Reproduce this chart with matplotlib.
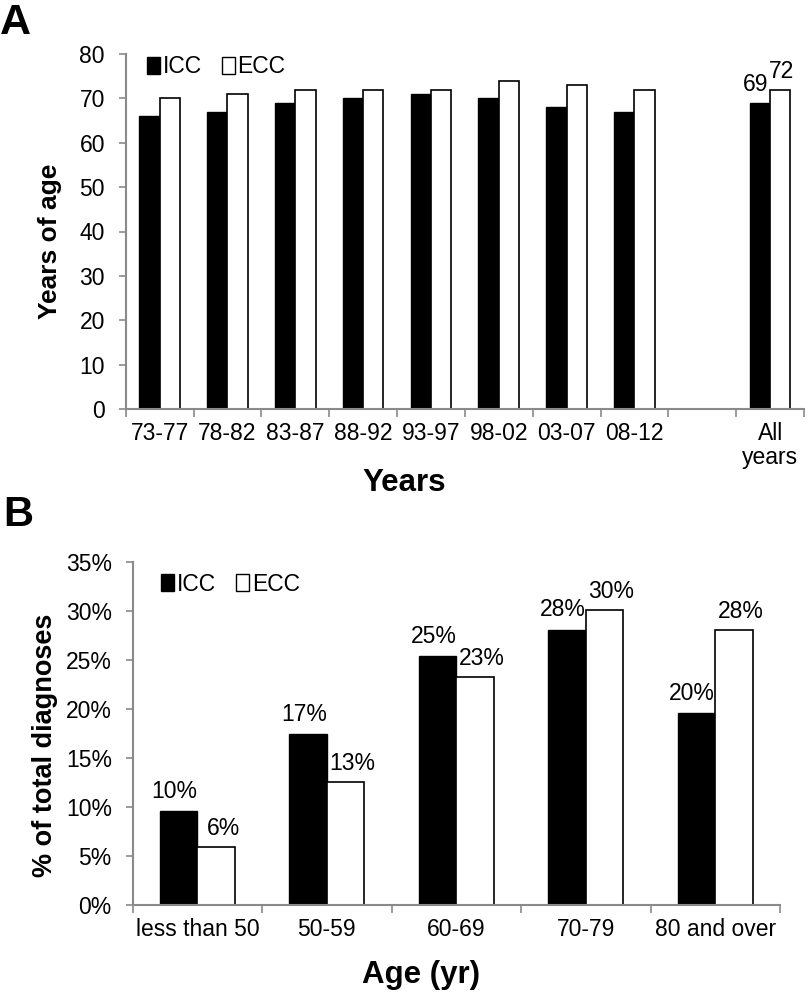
import numpy as np
import matplotlib
matplotlib.use('Agg')
import matplotlib.pyplot as plt
from matplotlib.patches import Patch

plt.rcParams['font.family'] = ['Liberation Sans', 'DejaVu Sans']

# Panel A: median age at diagnosis by period
periods = ['73-77', '78-82', '83-87', '88-92', '93-97', '98-02', '03-07', '08-12', '', 'All\nyears']
icc_age = [66, 67, 69, 70, 71, 70, 68, 67, np.nan, 69]
ecc_age = [70, 71, 72, 72, 72, 74, 73, 72, np.nan, 72]

# Panel B: share of diagnoses by age group
age_groups = ['less than 50', '50-59', '60-69', '70-79', '80 and over']
icc_pct = [9.6, 17.4, 25.4, 28.1, 19.6]
ecc_pct = [5.9, 12.6, 23.3, 30.1, 28.1]

spine_col = '#8a8a8a'
tick_fs = 16.5

fig = plt.figure(figsize=(8.08, 10), dpi=100)
ax1 = fig.add_axes([0.1556, 0.591, 0.8395, 0.355])
ax2 = fig.add_axes([0.1642, 0.095, 0.8011, 0.343])


def style_axis(ax, n):
    for s in ['top', 'right']:
        ax.spines[s].set_visible(False)
    for s in ['left', 'bottom']:
        ax.spines[s].set_color(spine_col)
        ax.spines[s].set_linewidth(1.5)
    ax.set_xlim(-0.5, n - 0.5)
    ax.set_xticks(np.arange(n))
    ax.set_xticks(np.arange(-0.5, n), minor=True)
    ax.tick_params(axis='x', which='major', length=0, pad=9, labelsize=tick_fs)
    ax.tick_params(axis='x', which='minor', length=6, width=1.2, color=spine_col, direction='out')
    ax.tick_params(axis='y', length=5, width=1.2, color=spine_col, pad=10, labelsize=tick_fs)


# ---- Panel A ----
x1 = np.arange(len(periods))
w1 = 0.3
ax1.bar(x1 - w1 / 2, icc_age, w1, color='black', edgecolor='black', linewidth=1)
ax1.bar(x1 + w1 / 2, ecc_age, w1, color='white', edgecolor='black', linewidth=1.2)
style_axis(ax1, len(periods))
ax1.set_ylim(0, 80)
ax1.set_yticks(range(0, 81, 10))
ax1.set_xticklabels(periods, linespacing=1.1)
ax1.annotate(f'{icc_age[-1]:.0f}', (x1[-1] - w1 / 2, icc_age[-1]), xytext=(-3, 5),
             textcoords='offset points', ha='center', va='bottom', fontsize=tick_fs)
ax1.annotate(f'{ecc_age[-1]:.0f}', (x1[-1] + w1 / 2, ecc_age[-1]), xytext=(1, 5),
             textcoords='offset points', ha='center', va='bottom', fontsize=tick_fs)

handles = [Patch(facecolor='black', edgecolor='black', label='ICC'),
           Patch(facecolor='white', edgecolor='black', label='ECC')]
ax1.legend(handles=handles, loc='upper left', bbox_to_anchor=(0.018, 1.022), ncol=2,
           frameon=False, fontsize=tick_fs, handlelength=0.55, handleheight=0.75,
           handletextpad=0.12, columnspacing=0.9, borderaxespad=0)

# ---- Panel B ----
x2 = np.arange(len(age_groups))
w2 = 0.29
ax2.bar(x2 - w2 / 2, icc_pct, w2, color='black', edgecolor='black', linewidth=1)
ax2.bar(x2 + w2 / 2, ecc_pct, w2, color='white', edgecolor='black', linewidth=1.2)
style_axis(ax2, len(age_groups))
ax2.set_ylim(0, 35)
ax2.set_yticks(range(0, 36, 5))
ax2.set_yticklabels([f'{v}%' for v in range(0, 36, 5)])
ax2.set_xticklabels(age_groups)
for xi, v in zip(x2, icc_pct):
    ax2.annotate(f'{round(v)}%', (xi - w2 / 2, v), xytext=(-3, 6), textcoords='offset points',
                 ha='center', va='bottom', fontsize=tick_fs)
for xi, v in zip(x2, ecc_pct):
    ax2.annotate(f'{round(v)}%', (xi + w2 / 2, v), xytext=(5, 5), textcoords='offset points',
                 ha='center', va='bottom', fontsize=tick_fs)
ax2.legend(handles=handles, loc='upper left', bbox_to_anchor=(0.03, 0.995), ncol=2,
           frameon=False, fontsize=tick_fs, handlelength=0.55, handleheight=0.75,
           handletextpad=0.12, columnspacing=0.9, borderaxespad=0)

# axis titles and panel letters
fig.text(404 / 808, 1 - 483 / 1000, 'Years', ha='center', va='center', fontsize=22.5, fontweight='bold')
fig.text(421 / 808, 1 - 975 / 1000, 'Age (yr)', ha='center', va='center', fontsize=22.5, fontweight='bold')
fig.text(50 / 808, 1 - 241 / 1000, 'Years of age', ha='center', va='center', rotation=90,
         fontsize=19, fontweight='bold')
fig.text(45 / 808, 1 - 745 / 1000, '% of total diagnoses', ha='center', va='center', rotation=90,
         fontsize=19.5, fontweight='bold')
fig.text(0.0, 0.997, 'A', ha='left', va='top', fontsize=31, fontweight='bold')
fig.text(0.004, 0.505, 'B', ha='left', va='top', fontsize=30, fontweight='bold')

fig.savefig('out.png', dpi=100)
